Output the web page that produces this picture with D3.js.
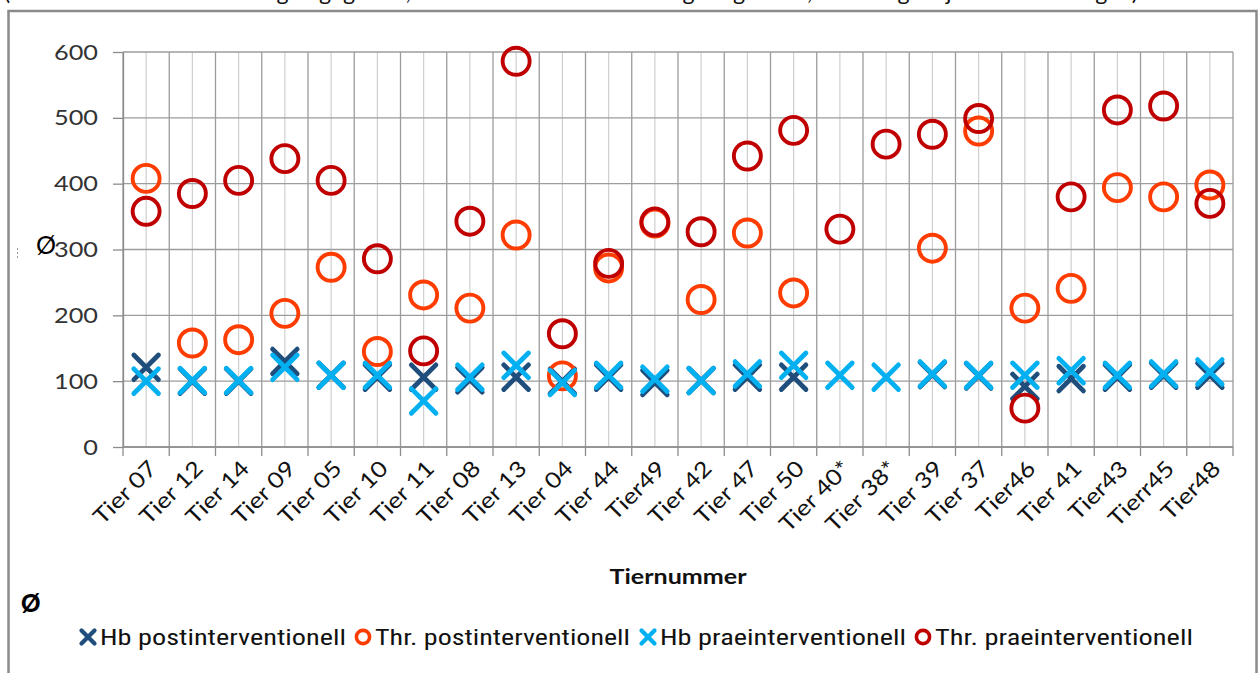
<!DOCTYPE html>
<html>
<head>
<meta charset="utf-8">
<script src="https://cdn.jsdelivr.net/npm/d3@7/dist/d3.min.js"></script>
<style>
  html, body { margin: 0; padding: 0; background: #fff; }
  svg { display: block; }
</style>
</head>
<body>
<svg id="chart" width="1260" height="673"></svg>
<script>
// Animal numbers along the x axis
const categories = ["Tier 07","Tier 12","Tier 14","Tier 09","Tier 05","Tier 10","Tier 11","Tier 08",
  "Tier 13","Tier 04","Tier 44","Tier49","Tier 42","Tier 47","Tier 50","Tier 40*","Tier 38*",
  "Tier 39","Tier 37","Tier46","Tier 41","Tier43","Tierr45","Tier48"];

// Haemoglobin and thrombocyte values per animal (null = not measured)
const hbPost  = [121,100,100,130,109,106,106,102,106,100,106, 98,101,106,106,null,null,110,108, 92,104,106,109,109];
const thrPost = [408,158,163,203,273,145,231,211,322,108,272,340,224,325,234,null,null,302,480,211,241,394,380,398];
const hbPrae  = [100,101,101,121,109,109, 70,106,124, 98,109,103,101,111,124,109,106,111,109,109,116,109,111,114];
const thrPrae = [358,385,405,438,405,286,146,343,586,172,279,342,327,442,481,331,460,475,499, 59,380,512,518,370];

const yTicks = [0,100,200,300,400,500,600];
const seriesNames = ["Hb postinterventionell","Thr. postinterventionell","Hb praeinterventionell","Thr. praeinterventionell"];

const svg = d3.select("#chart");
const font = "Lato, 'Open Sans', 'DejaVu Sans', sans-serif";
const stretch = 1.15; // labels are set slightly wide

// widen a text selection horizontally by a fixed factor
function widen(sel, f) {
  sel.each(function () {
    const w = this.getComputedTextLength();
    d3.select(this).attr("textLength", w * f).attr("lengthAdjust", "spacingAndGlyphs");
  });
}

const plot = { left: 123, right: 1233, top: 52, bottom: 447 };

const x = d3.scaleBand().domain(categories).range([plot.left, plot.right]).paddingInner(0).paddingOuter(0);
const y = d3.scaleLinear().domain([0, 600]).range([plot.bottom, plot.top]);

// Outer frame
svg.append("rect")
  .attr("x", 8.5).attr("y", 11).attr("width", 1248).attr("height", 700)
  .attr("fill", "none").attr("stroke", "#8a8a8a").attr("stroke-width", 2.5);

// Caption line running above the frame (only its lower edge is on screen)
svg.append("text")
  .attr("x", 4).attr("y", 0)
  .attr("font-family", font).attr("font-size", 22).attr("fill", "#111")
  .attr("textLength", 1134).attr("lengthAdjust", "spacingAndGlyphs")
  .text("(Werte in Tabelle im Anhang angegeben, Werte in Tabelle im Anhang aufgelistet, Messung an jeweils zwei Tagen)");

// Grid: minor vertical lines at category centres
const grid = svg.append("g");
grid.selectAll(".minor").data(categories).join("line")
  .attr("x1", d => x(d) + x.bandwidth() / 2).attr("x2", d => x(d) + x.bandwidth() / 2)
  .attr("y1", plot.top).attr("y2", plot.bottom)
  .attr("stroke", "#cfcfcf").attr("stroke-width", 1.2);

// Major vertical lines at category boundaries
const boundaries = categories.map(d => x(d)).concat([plot.right]);
grid.selectAll(".major").data(boundaries).join("line")
  .attr("x1", d => d).attr("x2", d => d)
  .attr("y1", plot.top).attr("y2", plot.bottom)
  .attr("stroke", "#9c9c9c").attr("stroke-width", 1.3);

// Horizontal grid lines
grid.selectAll(".hgrid").data(yTicks).join("line")
  .attr("x1", plot.left).attr("x2", plot.right)
  .attr("y1", d => y(d)).attr("y2", d => y(d))
  .attr("stroke", "#9c9c9c").attr("stroke-width", 1.3);

// Y axis with ticks
const yAxis = d3.axisLeft(y).tickValues(yTicks).tickSize(10).tickPadding(15).tickSizeOuter(0);
const gy = svg.append("g").attr("transform", `translate(${plot.left},0)`).call(yAxis);
gy.select(".domain").attr("stroke", "#8c8c8c").attr("stroke-width", 1.3);
gy.selectAll(".tick line").attr("stroke", "#8c8c8c").attr("stroke-width", 1.3);
gy.selectAll(".tick text").attr("font-family", font).attr("font-size", 22).attr("fill", "#333")
  .call(widen, stretch);

// X axis: tick marks at boundaries, labels rotated
svg.append("line")
  .attr("x1", plot.left).attr("x2", plot.right).attr("y1", plot.bottom).attr("y2", plot.bottom)
  .attr("stroke", "#8c8c8c").attr("stroke-width", 1.3);
svg.append("g").selectAll("line").data(boundaries).join("line")
  .attr("x1", d => d).attr("x2", d => d)
  .attr("y1", plot.bottom).attr("y2", plot.bottom + 9)
  .attr("stroke", "#8c8c8c").attr("stroke-width", 1.3);

svg.append("g").selectAll("text").data(categories).join("text")
  .attr("transform", d => `translate(${x(d) + x.bandwidth() / 2 + 12},${plot.bottom + 23}) rotate(-45)`)
  .attr("text-anchor", "end")
  .attr("font-family", font).attr("font-size", 22).attr("fill", "#111")
  .text(d => d)
  .call(widen, stretch);

// Axis title
svg.append("text")
  .attr("x", 678).attr("y", 584).attr("text-anchor", "middle")
  .attr("font-family", font).attr("font-size", 21).attr("font-weight", "bold").attr("fill", "#111")
  .attr("textLength", 137).attr("lengthAdjust", "spacingAndGlyphs")
  .text("Tiernummer");

// Diameter symbols beside the axes
svg.append("text").attr("x", 36).attr("y", 254)
  .attr("font-family", font).attr("font-size", 25).attr("fill", "#000").text("Ø");
svg.append("text").attr("x", 21).attr("y", 612)
  .attr("font-family", font).attr("font-size", 24).attr("font-weight", "900").attr("fill", "#000").text("Ø");
svg.append("line").attr("x1", 17.5).attr("x2", 17.5).attr("y1", 248).attr("y2", 259)
  .attr("stroke", "#999").attr("stroke-width", 1).attr("stroke-dasharray", "2,2");

// Marker helpers
const colors = ["#1f4e7c", "#ff3c00", "#00b0f0", "#c00000"];

function drawCross(g, cx, cy, r, color, w) {
  g.append("line").attr("x1", cx - r).attr("y1", cy - r).attr("x2", cx + r).attr("y2", cy + r)
    .attr("stroke", color).attr("stroke-width", w).attr("stroke-linecap", "round");
  g.append("line").attr("x1", cx - r).attr("y1", cy + r).attr("x2", cx + r).attr("y2", cy - r)
    .attr("stroke", color).attr("stroke-width", w).attr("stroke-linecap", "round");
}
function drawRing(g, cx, cy, r, color, w) {
  g.append("circle").attr("cx", cx).attr("cy", cy).attr("r", r)
    .attr("fill", "none").attr("stroke", color).attr("stroke-width", w);
}

const series = [
  { values: hbPost,  shape: "x", color: colors[0] },
  { values: thrPost, shape: "o", color: colors[1] },
  { values: hbPrae,  shape: "x", color: colors[2] },
  { values: thrPrae, shape: "o", color: colors[3] }
];

const marks = svg.append("g");
series.forEach(s => {
  const g = marks.append("g");
  s.values.forEach((v, i) => {
    if (v == null) return;
    const cx = x(categories[i]) + x.bandwidth() / 2;
    const cy = y(v);
    if (s.shape === "x") drawCross(g, cx, cy, 12.3, s.color, 4.8);
    else drawRing(g, cx, cy, 13.5, s.color, 3.9);
  });
});

// Legend
const legendItems = [
  { mx: 88,  tx: 100, tw: 246 },
  { mx: 363, tx: 375, tw: 255 },
  { mx: 648, tx: 660, tw: 246 },
  { mx: 923, tx: 935, tw: 258 }
];
const lg = svg.append("g");
legendItems.forEach((it, i) => {
  if (series[i].shape === "x") drawCross(lg, it.mx, 637, 6.5, series[i].color, 4.2);
  else drawRing(lg, it.mx, 637, 6.6, series[i].color, 3.6);
  lg.append("text").attr("x", it.tx).attr("y", 645)
    .attr("font-family", "'Liberation Sans Narrow', 'Roboto Condensed', Lato, sans-serif")
    .attr("font-size", 22).attr("fill", "#111")
    .attr("textLength", it.tw).attr("lengthAdjust", "spacingAndGlyphs")
    .text(seriesNames[i]);
});
</script>
</body>
</html>
